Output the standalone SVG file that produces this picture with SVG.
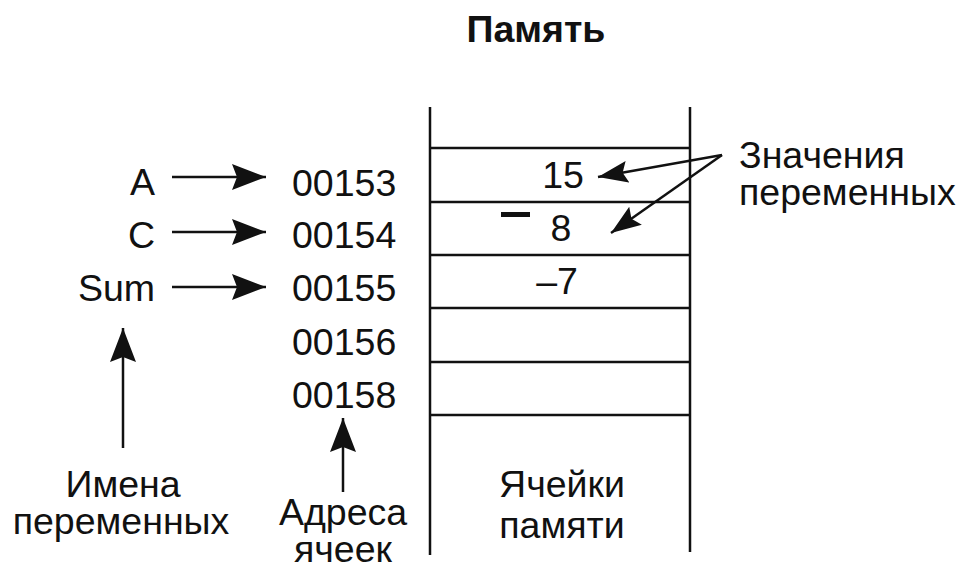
<svg xmlns="http://www.w3.org/2000/svg" width="961" height="573" viewBox="0 0 961 573">
<defs>
<style>
text{font-family:"Liberation Sans",Arial,sans-serif;font-size:37.5px;fill:#111}
.t{font-weight:bold}
.m{text-anchor:middle}
.e{text-anchor:end}
.ln{stroke:#111;stroke-width:2.5;fill:none}
.ar{stroke:#111;stroke-width:2.5;fill:none;marker-end:url(#ah)}
.ad{stroke:#111;stroke-width:2.5;fill:none;marker-end:url(#ah2)}
</style>
<marker id="ah" markerUnits="userSpaceOnUse" markerWidth="36" markerHeight="28" refX="34" refY="13" orient="auto">
<path d="M0,0 L34,13 L0,26 L5,13 Z" fill="#111"/>
</marker>
<marker id="ah2" markerUnits="userSpaceOnUse" markerWidth="32" markerHeight="24" refX="30" refY="11" orient="auto">
<path d="M0,0 L30,11 L0,22 L5,11 Z" fill="#111"/>
</marker>
</defs>
<rect width="961" height="573" fill="#fff"/>
<g id="title"><text class="t m" x="536" y="42">Память</text></g>
<g id="memory">
<line class="ln" x1="430" y1="107" x2="430" y2="555"/>
<line class="ln" x1="690" y1="107" x2="690" y2="552"/>
<line class="ln" x1="430" y1="148" x2="690" y2="148"/>
<line class="ln" x1="430" y1="202" x2="690" y2="202"/>
<line class="ln" x1="430" y1="255" x2="690" y2="255"/>
<line class="ln" x1="430" y1="308" x2="690" y2="308"/>
<line class="ln" x1="430" y1="362" x2="690" y2="362"/>
<line class="ln" x1="430" y1="415" x2="690" y2="415"/>
</g>
<g id="cell-15"><text class="m" x="563" y="188">15</text></g>
<g id="cell-8"><rect x="501" y="212" width="29" height="5" fill="#111"/><text class="m" x="561" y="241">8</text></g>
<g id="cell-m7"><text class="m" x="557" y="294">–7</text></g>
<g id="var-A"><text class="e" x="155" y="195">A</text></g>
<g id="var-C"><text class="e" x="155" y="248">C</text></g>
<g id="var-Sum"><text class="e" x="155" y="301">Sum</text></g>
<g id="addr-00153"><text x="292" y="196">00153</text></g>
<g id="addr-00154"><text x="292" y="248">00154</text></g>
<g id="addr-00155"><text x="292" y="301">00155</text></g>
<g id="addr-00156"><text x="292" y="355">00156</text></g>
<g id="addr-00158"><text x="292" y="408">00158</text></g>
<g id="label-names"><text class="m" x="123" y="497">Имена</text><text class="m" x="121" y="534">переменных</text></g>
<g id="label-addr"><text class="m" x="343" y="525">Адреса</text><text class="m" x="343" y="562">ячеек</text></g>
<g id="label-cells"><text class="m" x="562" y="497">Ячейки</text><text class="m" x="562" y="538">памяти</text></g>
<g id="label-values"><text x="739" y="168">Значения</text><text x="739" y="205">переменных</text></g>
<g id="connectors">
<line class="ar" x1="172" y1="177" x2="266" y2="177"/>
<line class="ar" x1="172" y1="232" x2="266" y2="232"/>
<line class="ar" x1="172" y1="287" x2="266" y2="287"/>
<line class="ar" x1="123" y1="448" x2="123" y2="328"/>
<line class="ar" x1="343" y1="492" x2="343" y2="418"/>
<line class="ad" x1="722" y1="155" x2="598" y2="177"/>
<line class="ad" x1="722" y1="155" x2="611" y2="233"/>
</g>
</svg>
